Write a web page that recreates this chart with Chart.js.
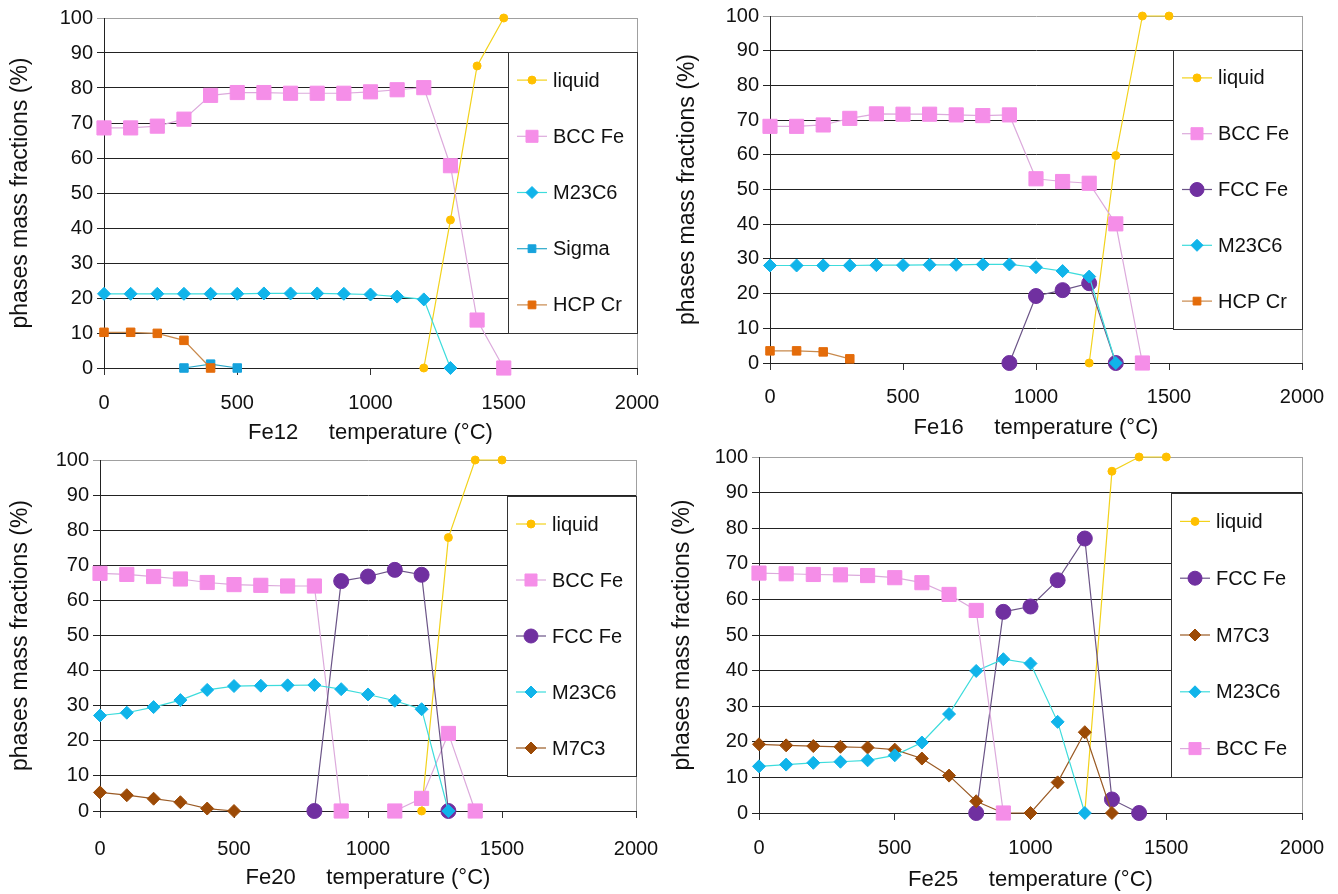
<!DOCTYPE html>
<html>
<head>
<meta charset="utf-8">
<script src="https://cdn.jsdelivr.net/npm/chart.js@4/dist/chart.umd.min.js"></script>
<style>
  body { margin: 0; background: #fff; width: 1338px; height: 894px; overflow: hidden; position: relative; }
  canvas { position: absolute; }
</style>
</head>
<body>
<canvas id="c1" width="720" height="447" style="left:0;top:0"></canvas>
<canvas id="c2" width="720" height="447" style="left:669px;top:0"></canvas>
<canvas id="c3" width="720" height="467" style="left:0;top:427px"></canvas>
<canvas id="c4" width="720" height="467" style="left:669px;top:427px"></canvas>
<script>
// temperatures (°C), one value per 100 degrees
const temps = [0, 100, 200, 300, 400, 500, 600, 700, 800, 900, 1000, 1100, 1200, 1300, 1400, 1500];
const xTicks = [0, 500, 1000, 1500, 2000];
const yTicks = [0, 10, 20, 30, 40, 50, 60, 70, 80, 90, 100];

// Fe12
const fe12Liquid = [null, null, null, null, null, null, null, null, null, null, null, null, 0, 42.3, 86.3, 100];
const fe12Bcc = [68.6, 68.6, 69.1, 71.1, 77.9, 78.7, 78.7, 78.5, 78.5, 78.5, 78.9, 79.5, 80.1, 57.8, 13.7, 0];
const fe12M23c6 = [21.2, 21.2, 21.2, 21.2, 21.2, 21.2, 21.3, 21.3, 21.3, 21.2, 21.0, 20.4, 19.6, 0, null, null];
const fe12Sigma = [null, null, null, 0, 1.1, 0, null, null, null, null, null, null, null, null, null, null];
const fe12HcpCr = [10.2, 10.2, 9.9, 7.9, 0, null, null, null, null, null, null, null, null, null, null, null];

// Fe16
const fe16Liquid = [null, null, null, null, null, null, null, null, null, null, null, null, 0, 59.8, 100, 100];
const fe16Bcc = [68.2, 68.2, 68.6, 70.5, 71.8, 71.7, 71.7, 71.5, 71.3, 71.5, 53.1, 52.3, 51.8, 40.1, 0, null];
const fe16Fcc = [null, null, null, null, null, null, null, null, null, 0, 19.3, 21.0, 23.0, 0, null, null];
const fe16M23c6 = [28.1, 28.1, 28.1, 28.1, 28.2, 28.2, 28.3, 28.3, 28.4, 28.4, 27.6, 26.5, 24.9, 0, null, null];
const fe16HcpCr = [3.5, 3.5, 3.2, 1.2, null, null, null, null, null, null, null, null, null, null, null, null];

// Fe20
const fe20Liquid = [null, null, null, null, null, null, null, null, null, null, null, null, 0, 77.9, 100, 100];
const fe20Bcc = [67.7, 67.4, 66.8, 66.1, 65.1, 64.5, 64.3, 64.1, 64.1, 0, null, 0, 3.6, 22.1, 0, null];
const fe20Fcc = [null, null, null, null, null, null, null, null, 0, 65.5, 66.8, 68.7, 67.3, 0, null, null];
const fe20M23c6 = [27.2, 28.0, 29.6, 31.6, 34.5, 35.6, 35.7, 35.8, 35.9, 34.7, 33.2, 31.4, 29.0, 0, null, null];
const fe20M7c3 = [5.3, 4.5, 3.5, 2.5, 0.7, 0, null, null, null, null, null, null, null, null, null, null];

// Fe25
const fe25Liquid = [null, null, null, null, null, null, null, null, null, null, null, null, 0, 96.0, 100, 100];
const fe25Fcc = [null, null, null, null, null, null, null, null, 0, 56.5, 58.0, 65.4, 77.1, 3.8, 0, null];
const fe25M7c3 = [19.3, 19.0, 18.8, 18.6, 18.4, 17.8, 15.3, 10.5, 3.3, 0, 0, 8.6, 22.7, 0, null, null];
const fe25M23c6 = [13.1, 13.6, 14.1, 14.4, 14.8, 16.2, 19.8, 27.8, 39.9, 43.2, 42.0, 25.6, 0, null, null, null];
const fe25Bcc = [67.4, 67.2, 67.0, 66.9, 66.7, 66.1, 64.7, 61.4, 56.9, 0, null, null, null, null, null, null];

// look of each phase
const phaseStyle = {
  'liquid': { line: '#f2d21b', fill: '#ffc000', shape: 'circle', r: 4, lr: 4 },
  'BCC Fe': { line: '#dcaadc', fill: '#f58ee8', shape: 'rect', r: 10, lr: 8.5 },
  'FCC Fe': { line: '#6b5487', fill: '#7030a0', shape: 'circle', r: 7.5, lr: 7 },
  'M23C6': { line: '#3ddcdc', fill: '#10b4ea', shape: 'rectRot', r: 6.5, lr: 6 },
  'Sigma': { line: '#2aa7c9', fill: '#16a2dc', shape: 'rect', r: 6, lr: 5.5 },
  'HCP Cr': { line: '#c8894c', fill: '#e46c0a', shape: 'rect', r: 6, lr: 5.5 },
  'M7C3': { line: '#9a5a24', fill: '#9c4a06', shape: 'rectRot', r: 6.5, lr: 6 }
};

Chart.defaults.font.family = "'Liberation Sans', Arial, sans-serif";
Chart.defaults.color = '#111';

const boxLegend = {
  id: 'boxLegend',
  afterDraw(chart, args, opts) {
    const { ctx, chartArea } = chart;
    ctx.save();
    ctx.strokeStyle = '#a0a0a0';
    ctx.lineWidth = 1;
    ctx.beginPath();
    ctx.moveTo(chartArea.right + 0.5, chartArea.top);
    ctx.lineTo(chartArea.right + 0.5, chartArea.bottom);
    ctx.stroke();

    const x0 = Math.round(chartArea.right - opts.width);
    const y0 = opts.top;
    const h = opts.height;
    ctx.fillStyle = '#fff';
    ctx.fillRect(x0, y0, opts.width, h);
    ctx.strokeStyle = '#333';
    ctx.strokeRect(x0 + 0.5, y0 + 0.5, opts.width, h);

    const sets = chart.data.datasets;
    const step = h / sets.length;
    sets.forEach((ds, i) => {
      const st = phaseStyle[ds.label];
      const cy = y0 + step * (i + 0.5);
      ctx.strokeStyle = st.line;
      ctx.lineWidth = 1.2;
      ctx.beginPath();
      ctx.moveTo(x0 + 9, cy);
      ctx.lineTo(x0 + 39, cy);
      ctx.stroke();
      ctx.fillStyle = st.fill;
      ctx.strokeStyle = st.fill;
      ctx.lineWidth = 1;
      Chart.helpers.drawPoint(ctx, { pointStyle: st.shape, radius: st.lr, rotation: 0, borderWidth: 1 }, x0 + 24, cy);
      ctx.fillStyle = '#111';
      ctx.font = "20px 'Liberation Sans', Arial, sans-serif";
      ctx.textBaseline = 'middle';
      ctx.textAlign = 'left';
      ctx.fillText(ds.label, x0 + 45, cy + 1);
    });
    ctx.restore();
  }
};

function makeSet(label, values, idx, count) {
  const st = phaseStyle[label];
  return {
    label: label,
    data: temps.map((t, i) => ({ x: t, y: values[i] })),
    borderColor: st.line,
    backgroundColor: st.fill,
    borderWidth: 1.2,
    pointStyle: st.shape,
    pointRadius: st.r,
    pointBackgroundColor: st.fill,
    pointBorderColor: st.fill,
    pointBorderWidth: 1,
    spanGaps: false,
    clip: false,
    order: count - idx
  };
}

// area is given in canvas pixels
function drawChart(id, name, series, area, lay) {
  const cv = document.getElementById(id);
  const sets = series.map((s, i) => makeSet(s[0], s[1], i, series.length));
  const xH = cv.height - area.bottom;
  new Chart(cv, {
    type: 'line',
    data: { datasets: sets },
    options: {
      responsive: false,
      animation: false,
      events: [],
      layout: { padding: { left: 0, top: area.top, right: cv.width - area.right, bottom: 0 } },
      plugins: {
        legend: { display: false },
        tooltip: { enabled: false },
        boxLegend: lay.legend
      },
      scales: {
        x: {
          type: 'linear',
          min: 0,
          max: 2000,
          afterBuildTicks: (s) => { s.ticks = xTicks.map(v => ({ value: v })); },
          afterFit: (s) => { s.height = xH; },
          ticks: { font: { size: 20 }, padding: lay.xPad, maxRotation: 0, color: '#111', callback: (v) => String(v) },
          grid: { drawOnChartArea: false, tickLength: 7, color: '#333' },
          border: { color: '#222', width: 1 },
          title: {
            display: true,
            text: name + '     temperature (°C)',
            font: { size: 22 },
            padding: { top: 0, bottom: lay.xTitle },
            color: '#111'
          }
        },
        y: {
          min: 0,
          max: 100,
          afterBuildTicks: (s) => { s.ticks = yTicks.map(v => ({ value: v })); },
          afterFit: (s) => { s.width = area.left; },
          ticks: { font: { size: 20 }, padding: 4, color: '#111', callback: (v) => String(v) },
          grid: {
            tickLength: 7,
            color: (c) => (c.tick && c.tick.value === 100 ? '#a0a0a0' : '#222'),
            lineWidth: 1
          },
          border: { color: '#222', width: 1 },
          title: {
            display: true,
            text: 'phases mass fractions (%)',
            font: { size: 23 },
            padding: { top: lay.yTitle, bottom: 0 },
            color: '#111'
          }
        }
      }
    },
    plugins: [boxLegend]
  });
}

drawChart('c1', 'Fe12', [
  ['liquid', fe12Liquid], ['BCC Fe', fe12Bcc], ['M23C6', fe12M23c6], ['Sigma', fe12Sigma], ['HCP Cr', fe12HcpCr]
], { left: 104, top: 18, right: 637, bottom: 368 },
   { xPad: 16, xTitle: 1, yTitle: 7, legend: { width: 129, top: 52, height: 281 } });

drawChart('c2', 'Fe16', [
  ['liquid', fe16Liquid], ['BCC Fe', fe16Bcc], ['FCC Fe', fe16Fcc], ['M23C6', fe16M23c6], ['HCP Cr', fe16HcpCr]
], { left: 101, top: 15, right: 633, bottom: 363 },
   { xPad: 15, xTitle: 6, yTitle: 5, legend: { width: 129, top: 50, height: 279 } });

drawChart('c3', 'Fe20', [
  ['liquid', fe20Liquid], ['BCC Fe', fe20Bcc], ['FCC Fe', fe20Fcc], ['M23C6', fe20M23c6], ['M7C3', fe20M7c3]
], { left: 100, top: 33, right: 636, bottom: 384 },
   { xPad: 19, xTitle: 3, yTitle: 7, legend: { width: 129, top: 69, height: 280 } });

drawChart('c4', 'Fe25', [
  ['liquid', fe25Liquid], ['FCC Fe', fe25Fcc], ['M7C3', fe25M7c3], ['M23C6', fe25M23c6], ['BCC Fe', fe25Bcc]
], { left: 90, top: 30, right: 633, bottom: 386 },
   { xPad: 16, xTitle: 1, yTitle: 0, legend: { width: 131, top: 66, height: 284 } });
</script>
</body>
</html>
